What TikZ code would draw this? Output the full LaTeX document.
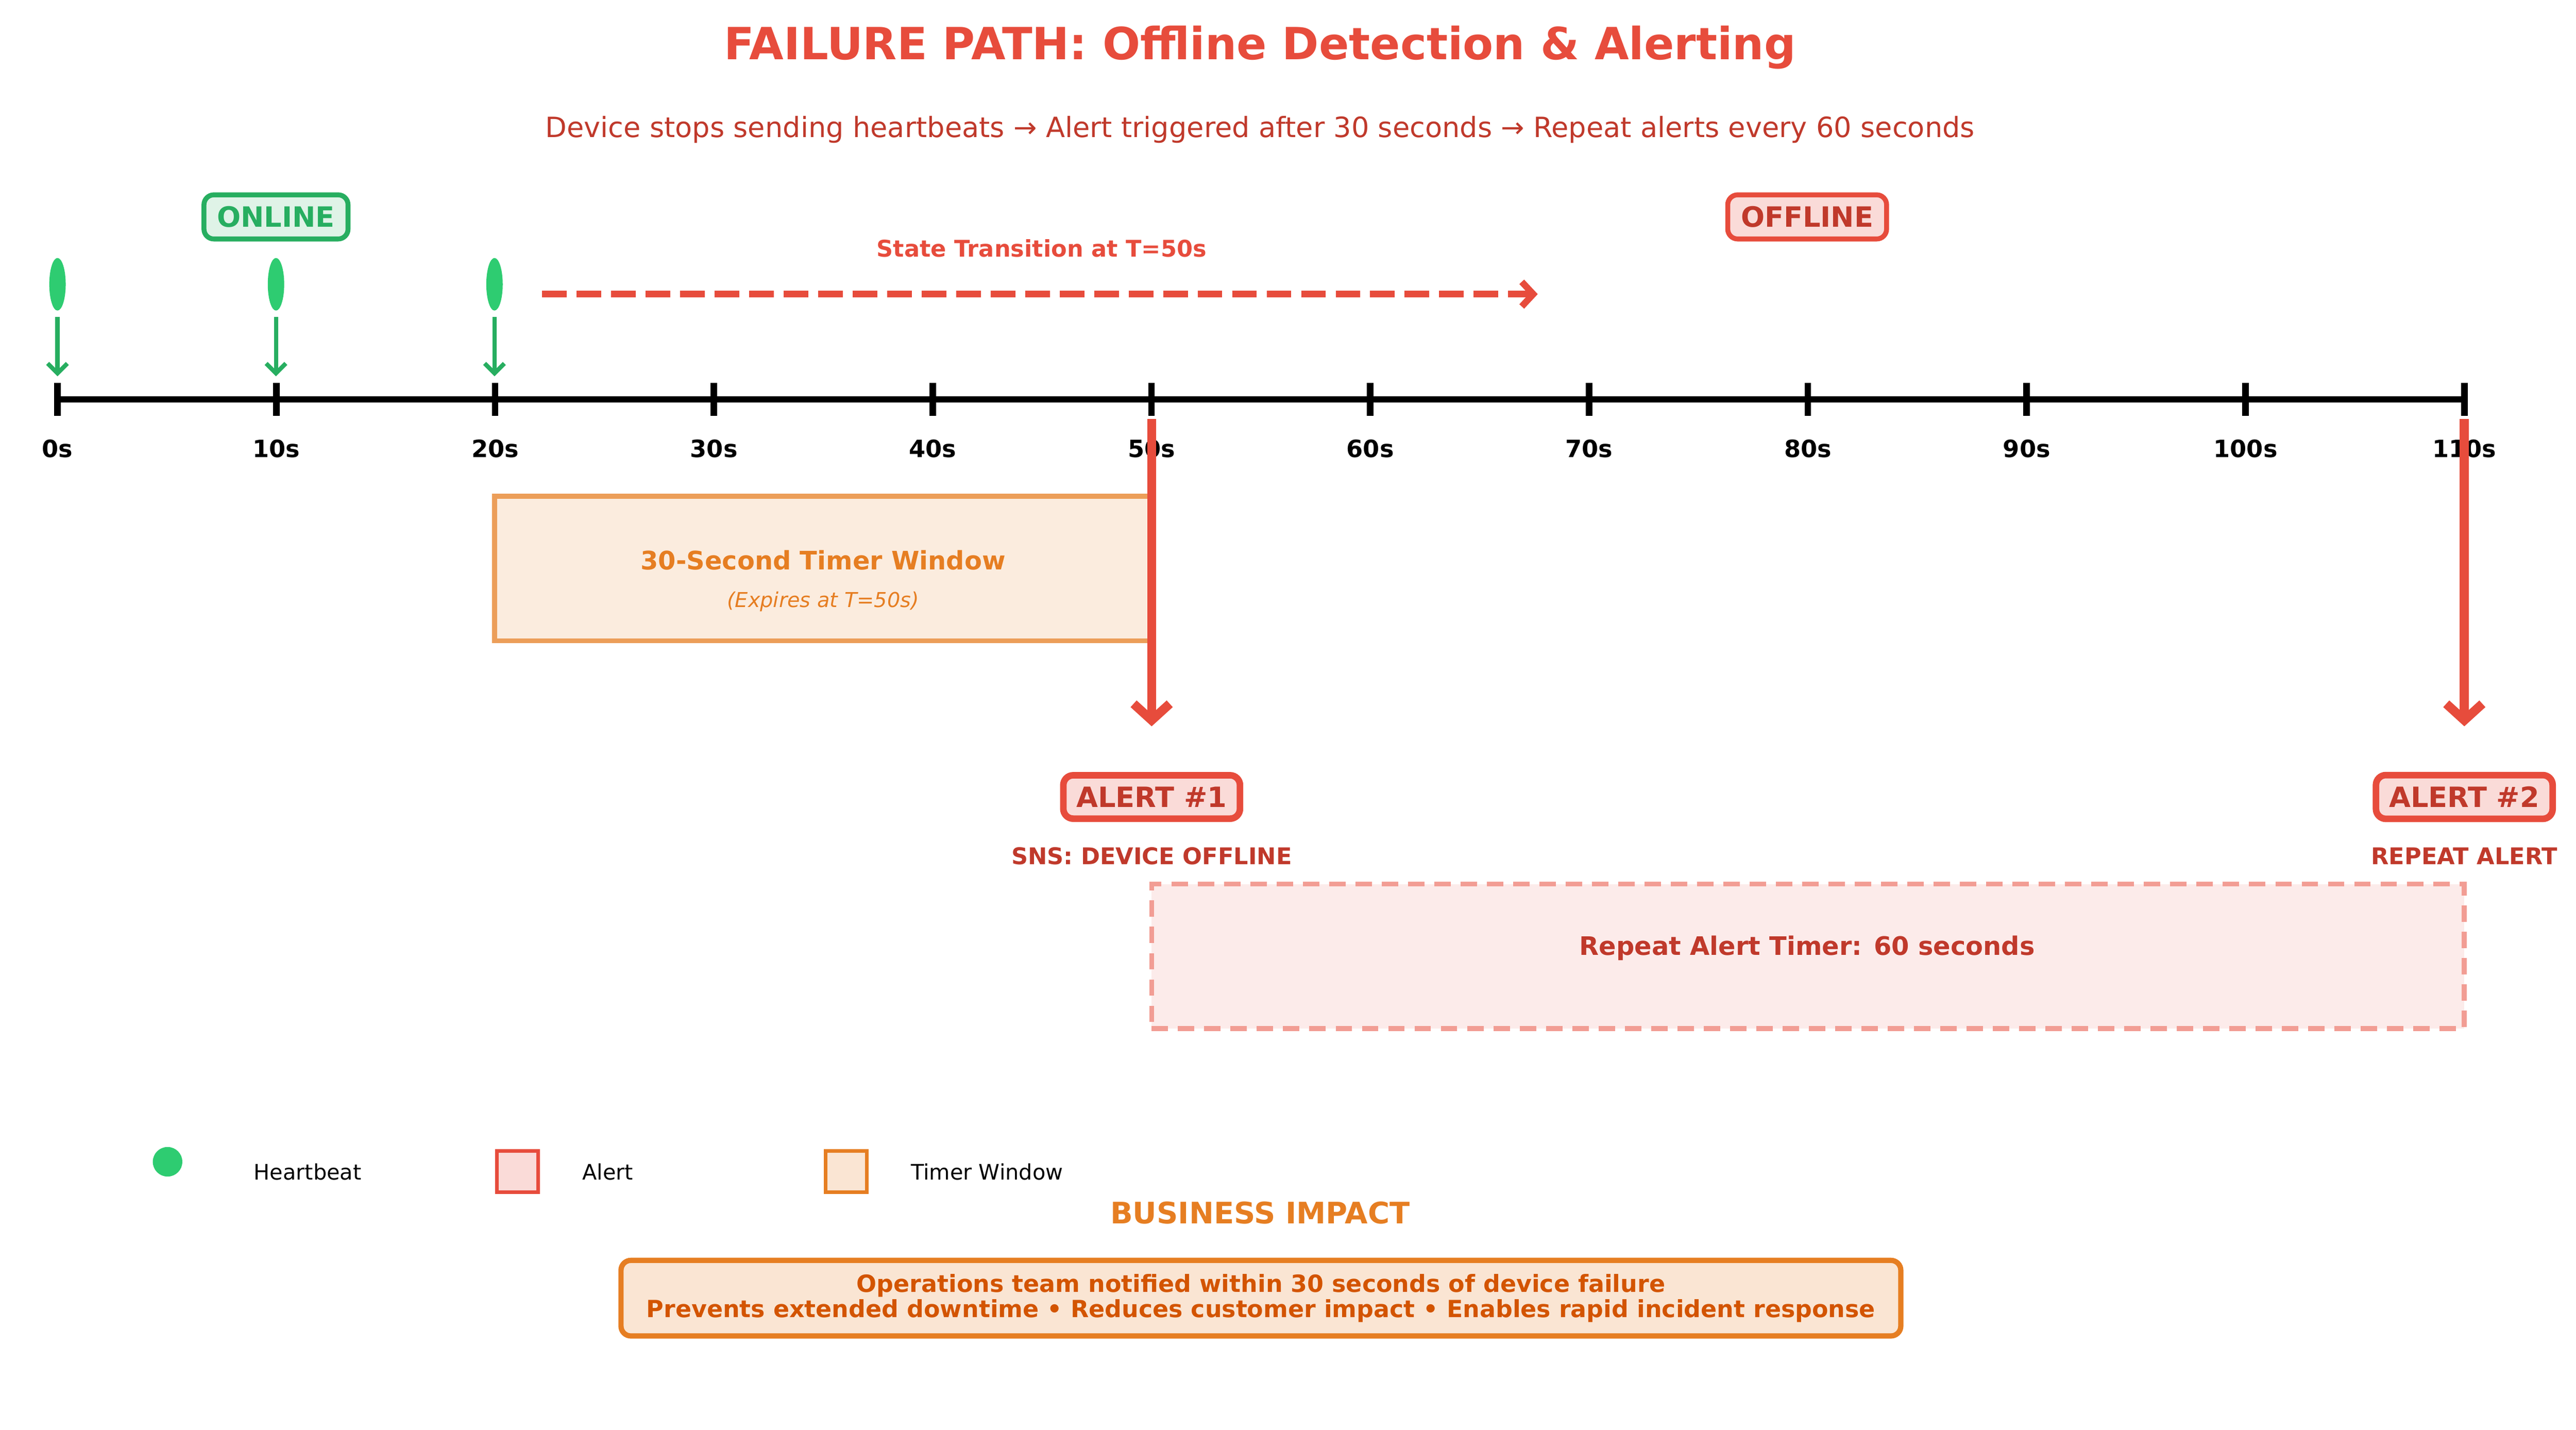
\documentclass[tikz,border=0pt]{standalone}
\usepackage{fontspec}
\setmainfont{DejaVu Sans}
\usetikzlibrary{shapes.geometric,arrows.meta}
\definecolor{cred}{HTML}{E74C3C}
\definecolor{dred}{HTML}{C0392B}
\definecolor{cgreen}{HTML}{27AE60}
\definecolor{lgreen}{HTML}{2ECC71}
\definecolor{corange}{HTML}{E67E22}
\definecolor{dorange}{HTML}{D35400}
\begin{document}
\begin{tikzpicture}[x=1pt,y=-1pt,
  tag/.style={draw,rounded corners=6pt,line width=3pt,inner xsep=8pt,inner ysep=7pt,font=\bfseries\fontsize{17}{20}\selectfont},
  tick/.style={font=\bfseries\fontsize{14.5}{17}\selectfont},
  leg/.style={font=\fontsize{13}{15}\selectfont,anchor=west}]
\useasboundingbox (0,0) rectangle (1568,870);
\node[font=\bfseries\fontsize{27}{32}\selectfont,text=cred] (title) at (767,29) {FAILURE PATH: Offline Detection \& Alerting};
\node[font=\fontsize{17}{20}\selectfont,text=dred] (sub) at (767,79) {Device stops sending heartbeats → Alert triggered after 30 seconds → Repeat alerts every 60 seconds};
% timeline
\coordinate (t0) at (35,243); \coordinate (t11) at (1500,243);
\draw[line width=4pt] (t0) -- (t11);
\foreach \i in {0,...,11}{
  \pgfmathsetmacro\xx{35+133.18*\i}
  \draw[line width=4pt] (\xx,233) -- (\xx,253);
  \pgfmathtruncatemacro\lab{10*\i}
  \node[tick] (lab\i) at (\xx,273) {\lab s};
}
% heartbeats
\foreach \i/\xx in {1/35,2/168,3/301}{
  \node[ellipse,fill=lgreen,minimum width=10pt,minimum height=32pt,inner sep=0pt] (hb\i) at (\xx,173) {};
  \coordinate (ha\i) at (\xx,193); \coordinate (hb\i e) at (\xx,229);
  \draw[cgreen,line width=2.6pt,-{Straight Barb[length=6pt,width=12pt]}] (ha\i) -- (hb\i e);
}
\node[tag,draw=cgreen,fill=cgreen!15,text=cgreen] (online) at (168,132) {ONLINE};
\node[tag,draw=cred,fill=cred!20,text=dred] (offline) at (1100,132) {OFFLINE};
\coordinate (st1) at (330,179); \coordinate (st2) at (936,179);
\draw[cred,line width=4pt,dash pattern=on 15pt off 6pt,-{Straight Barb[length=7pt,width=15pt]}] (st1) -- (st2);
\node[font=\bfseries\fontsize{14}{16}\selectfont,text=cred] (stl) at (634,151) {State Transition at T=50s};
% timer window
\node[draw=corange!75,fill=corange!15,line width=3pt,minimum width=400pt,minimum height=88pt,inner sep=0pt] (tw) at (501,346) {};
\node[font=\bfseries\fontsize{15.5}{18}\selectfont,text=corange] (twl) at (501,341) {30-Second Timer Window};
\node[font=\itshape\fontsize{12.5}{14}\selectfont,text=corange] (twl2) at (501,366) {(Expires at T=50s)};
% alerts arrows
\coordinate (a1s) at (701,255); \coordinate (a1e) at (701,442);
\coordinate (a2s) at (1500,255); \coordinate (a2e) at (1500,442);
\draw[cred,line width=5.5pt,-{Straight Barb[length=10pt,width=22pt]}] (a1s) -- (a1e);
\draw[cred,line width=5.5pt,-{Straight Barb[length=10pt,width=22pt]}] (a2s) -- (a2e);
\node[tag,draw=cred,fill=cred!20,text=dred,line width=4pt] (al1) at (701,485) {ALERT \#1};
\node[tag,draw=cred,fill=cred!20,text=dred,line width=4pt] (al2) at (1500,485) {ALERT \#2};
\node[font=\bfseries\fontsize{14}{16}\selectfont,text=dred] (al1l) at (701,521) {SNS: DEVICE OFFLINE};
\node[font=\bfseries\fontsize{14}{16}\selectfont,text=dred] (al2l) at (1500,521) {REPEAT ALERT};
\node[draw=cred!55,fill=cred!11,dash pattern=on 10pt off 6pt,line width=3pt,minimum width=799pt,minimum height=88pt,inner sep=0pt] (rt) at (1100.5,582) {};
\node[font=\bfseries\fontsize{15.5}{18}\selectfont,text=dred] (rtl) at (1100,577) {Repeat Alert Timer: 60 seconds};
% legend
\node[circle,fill=lgreen,minimum size=18pt,inner sep=0pt] (lg1) at (102,707) {};
\node[leg] (lg1t) at (151,713) {Heartbeat};
\node[draw=cred,fill=cred!20,line width=2.2pt,minimum size=25pt,inner sep=0pt] (lg2) at (315,713) {};
\node[leg] (lg2t) at (351,713) {Alert};
\node[draw=corange,fill=corange!20,line width=2.2pt,minimum size=25pt,inner sep=0pt] (lg3) at (515,713) {};
\node[leg] (lg3t) at (551,713) {Timer Window};
% business impact
\node[font=\bfseries\fontsize{18}{21}\selectfont,text=corange] (bi) at (767,738) {BUSINESS IMPACT};
\node[draw=corange,fill=corange!20,rounded corners=6pt,line width=3.2pt,minimum width=779pt,minimum height=46pt,inner sep=0pt,align=center,text=dorange,font=\bfseries\fontsize{14.4}{15.5}\selectfont] (bib) at (767.5,790) {Operations team notified within 30 seconds of device failure\\Prevents extended downtime • Reduces customer impact • Enables rapid incident response};
\end{tikzpicture}
\end{document}
